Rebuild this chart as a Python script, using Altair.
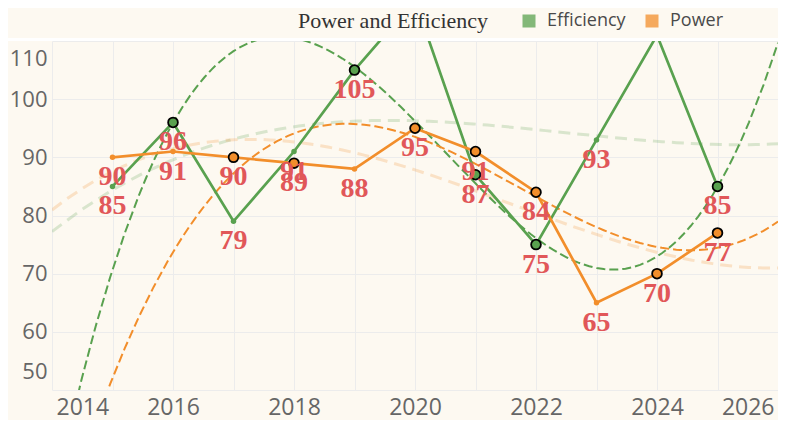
import altair as alt
import pandas as pd

years = [2015, 2016, 2017, 2018, 2019, 2020, 2021, 2022, 2023, 2024, 2025]
efficiency = [85, 96, 79, 91, 105, 117, 87, 75, 93, 111, 85]
power = [90, 91, 90, 89, 88, 95, 91, 84, 65, 70, 77]
eff_marked = [False, True, False, False, True, False, True, True, False, False, True]
pow_marked = [False, False, True, True, False, True, True, True, False, True, True]
series_names = ["Efficiency", "Power"]
series_colors = ["#59a14f", "#f28e2b"]
x_ticks = list(range(2014, 2027))
y_ticks = [50, 60, 70, 80, 90, 100, 110]

rows = []
for y, e, m in zip(years, efficiency, eff_marked):
    rows.append({"year": y, "series": "Efficiency", "value": e, "marked": m})
for y, p, m in zip(years, power, pow_marked):
    rows.append({"year": y, "series": "Power", "value": p, "marked": m})
df = pd.DataFrame(rows)

W, H = 726, 349

color_scale = alt.Scale(domain=series_names, range=series_colors)
x_enc = alt.X("year:Q",
              scale=alt.Scale(domain=[2014, 2026], nice=False, zero=False),
              axis=alt.Axis(values=x_ticks, format="d",
                            labelExpr="datum.value % 2 == 0 ? datum.label : ''",
                            title=None, labelFlush=True, labelFlushOffset=-4,
                            ticks=False, domain=False, labelPadding=6,
                            labelFontSize=23))
y_enc = alt.Y("value:Q",
              scale=alt.Scale(domain=[50, 110], nice=False, zero=False),
              axis=alt.Axis(values=y_ticks, title=None, labelFlush=True,
                            labelFlushOffset=-7, ticks=False, domain=False,
                            labelPadding=5, labelFontSize=22))
no_legend = alt.Color("series:N", scale=color_scale, legend=None)

base = alt.Chart(df)

top_rule = alt.Chart(pd.DataFrame({"k": [0]})).mark_rule(
    color="white", strokeWidth=3, clip=False
).encode(x=alt.value(-44), x2=alt.value(W), y=alt.value(-1.5))

faint = base.transform_regression(
    "year", "value", groupby=["series"], method="poly", order=3, extent=[2014, 2026]
).mark_line(strokeWidth=3, strokeDash=[12, 7], opacity=0.22, clip=True).encode(
    x=x_enc, y=y_enc, color=no_legend
)

dark = base.transform_filter("datum.marked").transform_regression(
    "year", "value", groupby=["series"], method="poly", order=3, extent=[2014, 2026]
).mark_line(strokeWidth=2, strokeDash=[9, 4], clip=True).encode(
    x=x_enc, y=y_enc, color=no_legend
)

lines = base.mark_line(strokeWidth=2.7, clip=True).encode(
    x=x_enc, y=y_enc, color=no_legend
)

dots = base.mark_circle(size=30, opacity=1, clip=True).encode(
    x=x_enc, y=y_enc,
    color=alt.Color("series:N", scale=color_scale,
                    legend=alt.Legend(title=None, orient="none", legendX=468, legendY=-29,
                                      direction="horizontal", symbolType="square",
                                      symbolSize=169, symbolOpacity=0.75,
                                      symbolStrokeWidth=0, labelFont="Open Sans",
                                      labelFontSize=18, labelColor="#4a4a4a",
                                      labelOffset=9, columnPadding=17, padding=0))
)

marked = base.transform_filter("datum.marked").mark_circle(
    size=95, opacity=1, stroke="black", strokeWidth=1.8, clip=True
).encode(x=x_enc, y=y_enc, color=no_legend)

labels = base.transform_filter("datum.value <= 110").mark_text(
    font="Liberation Serif", fontWeight="bold", fontSize=28, color="#e15759",
    dy=20, baseline="middle", clip=True
).encode(x=x_enc, y=y_enc, text=alt.Text("value:Q", format="d"))

chart = alt.layer(top_rule, faint, dark, lines, dots, marked, labels).resolve_legend(
    color="independent"
).properties(
    width=W, height=H,
    autosize=alt.AutoSizeParams(type="none"),
    padding={"left": 44, "top": 33, "right": 0, "bottom": 30},
    title=alt.TitleParams("Power and Efficiency", font="Liberation Serif", fontSize=22,
                          color="#333333", anchor="middle", frame="bounds",
                          offset=0, dy=21, fontWeight="normal"),
).configure(background="#fdf9f1").configure_view(stroke=None).configure_axis(
    labelFont="Open Sans", labelColor="#666666",
    gridColor="#ececec", gridWidth=1
)

chart.save("out.html", embed_options={"renderer": "svg", "actions": False})
